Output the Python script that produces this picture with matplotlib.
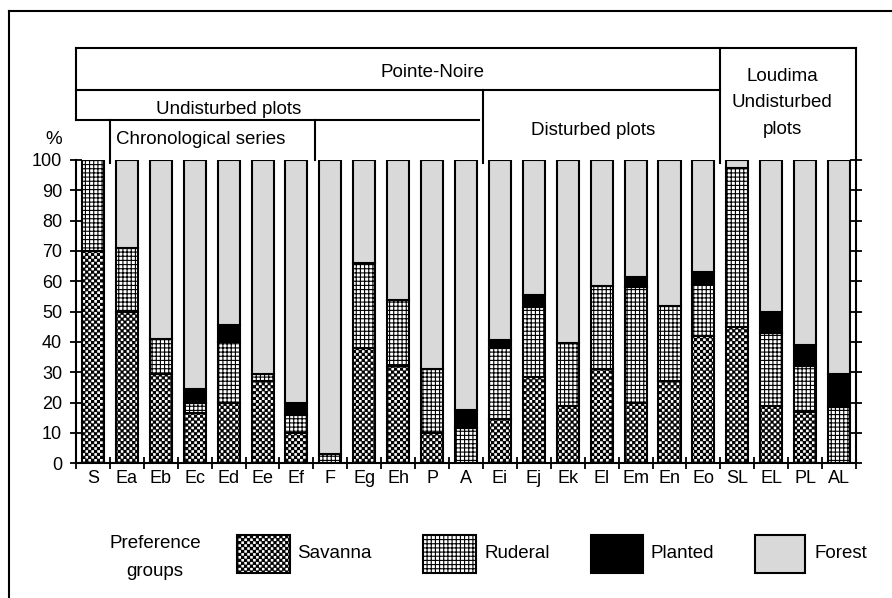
import numpy as np
import matplotlib
matplotlib.use("Agg")
import matplotlib.pyplot as plt
import matplotlib.hatch as mhatch
from matplotlib.path import Path
from matplotlib.lines import Line2D
from matplotlib.patches import Rectangle

# ---------------- data ----------------
categories = ['S', 'Ea', 'Eb', 'Ec', 'Ed', 'Ee', 'Ef', 'F', 'Eg', 'Eh', 'P', 'A',
              'Ei', 'Ej', 'Ek', 'El', 'Em', 'En', 'Eo', 'SL', 'EL', 'PL', 'AL']
savanna = [70, 50, 29.5, 16.5, 20, 27, 10, 0, 38, 32, 10, 0,
           14.5, 28.5, 19, 31, 20, 27, 42, 45, 19, 17, 0]
ruderal = [30, 21, 11.5, 3.5, 20, 2.5, 6, 3, 28, 22, 21, 11.5,
           23.5, 23, 20.5, 27.5, 38, 25, 17, 52.5, 24, 15, 18.5]
planted = [0, 0, 0, 4.5, 5.5, 0, 4, 0, 0, 0, 0, 6,
           2.5, 4, 0, 0, 3.5, 0, 4, 0, 7, 7, 11]
forest = [0, 29, 59, 75.5, 54.5, 70.5, 80, 97, 34, 46, 69, 82.5,
          59.5, 44.5, 60.5, 41.5, 38.5, 48, 37, 2.5, 50, 61, 70.5]
group_names = ['Savanna', 'Ruderal', 'Planted', 'Forest']
y_ticks = [0, 10, 20, 30, 40, 50, 60, 70, 80, 90, 100]


# ---------------- checkerboard hatch (replaces the 'o' small circles) ----------------
class CheckerHatch(mhatch.HatchPatternBase):
    N = 34

    def __init__(self, hatch, density):
        if 'o' in hatch:
            n = self.N
            self.cells = [(i, j) for i in range(n) for j in range(n) if (i + j) % 2 == 0]
            self.num_vertices = len(self.cells) * 5
        else:
            self.cells = []
            self.num_vertices = 0

    def set_vertices_and_codes(self, vertices, codes):
        s = 1.0 / self.N
        shrink = 0.004
        sq = np.array([[shrink, shrink], [s - shrink, shrink], [s - shrink, s - shrink],
                       [shrink, s - shrink], [shrink, shrink]])
        parts = [sq + [i * s, j * s] for (i, j) in self.cells]
        vertices[:] = np.concatenate(parts)
        c = np.array([Path.MOVETO, Path.LINETO, Path.LINETO, Path.LINETO, Path.CLOSEPOLY],
                     dtype=Path.code_type)
        codes[:] = np.tile(c, len(self.cells))


mhatch._hatch_types = [h for h in mhatch._hatch_types if h is not mhatch.SmallCircles]
mhatch._hatch_types.append(CheckerHatch)

plt.rcParams['font.family'] = ['Liberation Sans', 'DejaVu Sans']
plt.rcParams['hatch.linewidth'] = 0.8
plt.rcParams['hatch.color'] = 'black'

FS = 13.5
TFS = 13

styles = {
    'Savanna': dict(facecolor='white', hatch='o'),
    'Ruderal': dict(facecolor='white', hatch='++++'),
    'Planted': dict(facecolor='black', hatch=None),
    'Forest': dict(facecolor='#d9d9d9', hatch=None),
}

W, H = 892, 598
fig = plt.figure(figsize=(W / 100, H / 100), dpi=100)

ax_l, ax_r, ax_b, ax_t = 76, 856, 463.3, 160
ax = fig.add_axes([ax_l / W, 1 - ax_b / H, (ax_r - ax_l) / W, (ax_b - ax_t) / H])

x = np.arange(len(categories))
bottom = np.zeros(len(categories))
for name, vals in zip(group_names, [savanna, ruderal, planted, forest]):
    v = np.array(vals, dtype=float)
    ax.bar(x, v, width=0.65, bottom=bottom, edgecolor='black', linewidth=1.5,
           **styles[name])
    bottom += v

ax.set_xlim(-0.5, len(categories) - 0.5)
ax.set_ylim(0, 100)
ax.set_yticks(y_ticks)
ax.set_yticklabels([str(t) for t in y_ticks], fontsize=TFS)
ax.set_xticks(x)
ax.set_xticklabels(categories, fontsize=TFS)
ax.set_xticks(np.arange(-0.5, len(categories)), minor=True)
ax.tick_params(axis='x', which='major', length=0, pad=5)
ax.tick_params(axis='x', which='minor', direction='inout', length=8, width=1.3)
ax.tick_params(axis='y', which='major', direction='inout', length=8, width=1.3,
               left=True, right=True, pad=6)
ax.spines['top'].set_visible(False)
for s in ['left', 'right', 'bottom']:
    ax.spines[s].set_linewidth(1.5)

# ---------------- header boxes ----------------
n = len(categories)
xl, xr = -0.5, n - 0.5
lk = dict(color='black', linewidth=1.5, clip_on=False, solid_capstyle='projecting')
y_top, y_pn, y_und = 137.0, 123.2, 113.3
ax.plot([xl, xr], [y_top, y_top], **lk)
ax.plot([xl, 18.5], [y_pn, y_pn], **lk)
ax.plot([xl, 11.38], [y_und, y_und], **lk)
ax.plot([xl, xl], [y_und, y_top], **lk)
ax.plot([xr, xr], [100, y_top], **lk)
ax.plot([18.5, 18.5], [99, y_top], **lk)
ax.plot([11.5, 11.5], [99, y_pn], **lk)
ax.plot([0.5, 0.5], [99, y_und], **lk)
ax.plot([6.55, 6.55], [100, y_und], **lk)

tk = dict(fontsize=FS, ha='center', va='center', clip_on=False)
ax.text(10.0, 128.8, 'Pointe-Noire', **tk)
ax.text(20.32, 118.8, 'Loudima\nUndisturbed\nplots', linespacing=1.72, **tk)
ax.text(4.0, 116.6, 'Undisturbed plots', **tk)
ax.text(0.68, 106.8, 'Chronological series', fontsize=FS, ha='left', va='center')
ax.text(14.75, 109.8, 'Disturbed plots', **tk)
ax.text(-1.15, 106.8, '%', **tk)

# ---------------- legend ----------------
def fx(px):
    return px / W


def fy(py):
    return 1 - py / H


fig.text(fx(155), fy(557.5), 'Preference\ngroups', fontsize=FS, ha='center', va='center',
         linespacing=1.78)
sw = [(237, 290, 297), (423, 476, 484), (591, 643, 651), (755, 805, 814)]
for name, (x0, x1, tx) in zip(group_names, sw):
    st = styles[name]
    r = Rectangle((fx(x0), fy(573)), fx(x1) - fx(x0), (573 - 535) / H,
                  transform=fig.transFigure, facecolor=st['facecolor'],
                  hatch=st['hatch'], edgecolor='black', linewidth=1.5)
    fig.add_artist(r)
    fig.text(fx(tx), fy(553.5), name, fontsize=FS, ha='left', va='center')

# ---------------- outer frame (left and top only) ----------------
fig.add_artist(Line2D([fx(9), fx(9)], [fy(10.7), 0], transform=fig.transFigure,
                      color='black', linewidth=1.5))
fig.add_artist(Line2D([fx(9), 1], [fy(10.7), fy(10.7)], transform=fig.transFigure,
                      color='black', linewidth=1.5))

fig.savefig('out.png', dpi=100)
